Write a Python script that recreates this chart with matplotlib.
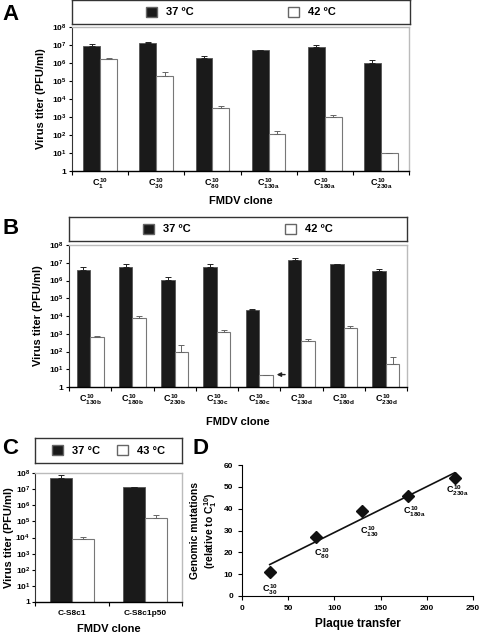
import numpy as np
import matplotlib.pyplot as plt
from matplotlib.patches import Patch

plt.rcParams['font.family'] = 'Liberation Sans'
plt.rcParams['font.weight'] = 'bold'
plt.rcParams['mathtext.fontset'] = 'custom'
plt.rcParams['mathtext.rm'] = 'Liberation Sans:bold'
plt.rcParams['mathtext.it'] = 'Liberation Sans:bold'
plt.rcParams['mathtext.bf'] = 'Liberation Sans:bold'

# --- panel A: clones passaged in parallel lineage a
clones_a = ['1', '30', '80', '130a', '180a', '230a']
titer_37_a = [9e6, 1.3e7, 2e6, 5e6, 8e6, 1.05e6]
top_37_a = [1.2e7, 1.5e7, 2.6e6, 5.5e6, 1.05e7, 1.4e6]
titer_42_a = [1.7e6, 1.8e5, 3e3, 1.1e2, 1e3, 10]
top_42_a = [2e6, 3.3e5, 4.3e3, 1.6e2, 1.35e3, 10]

# --- panel B: lineages b, c, d
clones_b = ['130b', '180b', '230b', '130c', '180c', '130d', '180d', '230d']
titer_37_b = [4e6, 5.5e6, 1.1e6, 6e6, 2.3e4, 1.4e7, 8e6, 3.5e6]
top_37_b = [6e6, 8e6, 1.5e6, 9e6, 2.6e4, 1.9e7, 8e6, 4.5e6]
titer_42_b = [6.5e2, 8e3, 90, 1.2e3, 5, 4e2, 2e3, 20]
top_42_b = [7e2, 9.5e3, 2.2e2, 1.7e3, 5, 5e2, 2.6e3, 50]

# --- panel C: C-S8c1 populations
clones_c = ['C-S8c1', 'C-S8c1p50']
titer_37_c = [5e7, 1.3e7]
top_37_c = [7e7, 1.4e7]
titer_43_c = [8e3, 1.6e5]
top_43_c = [1.1e4, 2.5e5]

# --- panel D: mutations vs plaque transfers
transfers = [30, 80, 130, 180, 230]
mutations = [11, 27, 39, 46, 54]
point_names = ['30', '80', '130', '180a', '230a']

W, H = 480, 633
fig = plt.figure(figsize=(W / 100, H / 100), dpi=100)


def box(px_left, px_top, px_right, px_bottom):
    return [px_left / W, 1 - px_bottom / H, (px_right - px_left) / W,
            (px_bottom - px_top) / H]


def legend_box(rect, temps, colspace):
    lax = fig.add_axes(rect)
    lax.set_xticks([])
    lax.set_yticks([])
    for s in lax.spines.values():
        s.set_color('#333333')
        s.set_linewidth(1.0)
    handles = [Patch(facecolor='#1a1a1a', edgecolor='#666666', label=temps[0]),
               Patch(facecolor='white', edgecolor='#666666', label=temps[1])]
    lax.legend(handles=handles, loc='center', ncol=2, frameon=False,
               handlelength=1.0, handleheight=1.0,
               columnspacing=colspace, handletextpad=0.8,
               prop={'weight': 'bold', 'size': 8})


def titer_panel(ax, names, v1, t1, v2, t2, width, fs, mathlabels=True):
    x = np.arange(len(names))
    ax.set_yscale('log')
    ax.bar(x - width / 2, v1, width, color='#1a1a1a', edgecolor='#555555',
           linewidth=0.6)
    ax.bar(x + width / 2, v2, width, color='white', edgecolor='#777777',
           linewidth=0.8)
    e1 = [np.zeros(len(v1)), np.array(t1) - np.array(v1)]
    e2 = [np.zeros(len(v2)), np.array(t2) - np.array(v2)]
    ax.errorbar(x - width / 2, v1, yerr=e1, fmt='none', ecolor='#222222',
                elinewidth=0.7, capsize=2.5, capthick=0.7)
    ax.errorbar(x + width / 2, v2, yerr=e2, fmt='none', ecolor='#666666',
                elinewidth=0.7, capsize=2.5, capthick=0.7)
    ax.set_ylim(1, 1e8)
    ax.set_xlim(-0.5, len(names) - 0.5)
    ax.set_yticks([10.0 ** k for k in range(9)])
    ax.set_yticklabels(['1'] + [r'$10^{%d}$' % k for k in range(1, 9)],
                       fontsize=6)
    ax.minorticks_off()
    ax.set_xticks(np.arange(len(names) + 1) - 0.5)
    ax.set_xticklabels([])
    ax.set_xticks(x, minor=True)
    if mathlabels:
        ax.set_xticklabels([r'$C^{10}_{%s}$' % n for n in names], minor=True,
                           fontsize=fs)
    else:
        ax.set_xticklabels(names, minor=True, fontsize=fs)
    ax.tick_params(axis='x', which='minor', length=0, pad=4)
    ax.tick_params(axis='x', which='major', length=3, width=0.8)
    ax.tick_params(axis='y', length=2.5, width=0.8, pad=1.5)
    ax.spines['bottom'].set_linewidth(1.0)
    ax.spines['left'].set_color('#333333')
    for s in ('top', 'right'):
        ax.spines[s].set_color('#bbbbbb')
        ax.spines[s].set_linewidth(1.0)
    ax.set_xlabel('FMDV clone', fontsize=8, fontweight='bold')
    ax.set_ylabel('Virus titer (PFU/ml)', fontsize=8, fontweight='bold')


# A
ax_a = fig.add_axes(box(72, 27, 409, 171))
titer_panel(ax_a, clones_a, titer_37_a, top_37_a, titer_42_a, top_42_a, 0.3, 6.5)
ax_a.xaxis.labelpad = 4
legend_box(box(72, 0, 410, 24), ['37 ºC', '42 ºC'], 8.5)
fig.text(2 / W, 1 - 14 / H, 'A', fontsize=16, fontweight='bold', va='center')

# B
ax_b = fig.add_axes(box(69, 245, 407, 387))
titer_panel(ax_b, clones_b, titer_37_b, top_37_b, titer_42_b, top_42_b, 0.32, 6.5)
ax_b.xaxis.labelpad = 7
ax_b.annotate('', xy=(4.35, 5), xytext=(4.68, 5),
              arrowprops=dict(arrowstyle='-|>', color='#222222', lw=1.0,
                              mutation_scale=6),
              annotation_clip=False)
legend_box(box(69, 217, 407, 241), ['37 ºC', '42 ºC'], 8.5)
fig.text(2 / W, 1 - 229 / H, 'B', fontsize=16, fontweight='bold', va='center')

# C
ax_c = fig.add_axes(box(35, 473, 182, 602))
titer_panel(ax_c, clones_c, titer_37_c, top_37_c, titer_43_c, top_43_c, 0.3, 6,
            mathlabels=False)
ax_c.tick_params(axis='x', which='minor', pad=6)
ax_c.tick_params(axis='y', pad=1)
ax_c.xaxis.labelpad = 5
ax_c.yaxis.labelpad = 1
legend_box(box(35, 438, 182, 463), ['37 °C', '43 °C'], 1.5)
fig.text(2 / W, 1 - 449 / H, 'C', fontsize=16, fontweight='bold', va='center')

# D
ax_d = fig.add_axes(box(242, 465, 473, 596))
slope, icpt = np.polyfit(transfers, mutations, 1)
xfit = np.array([transfers[0], transfers[-1]])
ax_d.plot(xfit, slope * xfit + icpt, color='#111111', lw=1.2)
ax_d.plot(transfers, mutations, 'D', color='#111111', ms=6)
offsets = [(0, -13), (4, -12), (5, -15), (4, -12), (2, -9)]
for xv, yv, nm, off in zip(transfers, mutations, point_names, offsets):
    ax_d.annotate(r'$C^{10}_{%s}$' % nm, (xv, yv), xytext=off,
                  textcoords='offset points', ha='center', va='center',
                  fontsize=6.5)
ax_d.set_xlim(0, 250)
ax_d.set_ylim(0, 60)
ax_d.set_xticks(range(0, 251, 50))
ax_d.set_yticks(range(0, 61, 10))
ax_d.tick_params(labelsize=6, length=3, width=0.8)
ax_d.spines['top'].set_visible(False)
ax_d.spines['right'].set_visible(False)
ax_d.set_xlabel('Plaque transfer', fontsize=8.5, fontweight='bold')
ax_d.set_ylabel('Genomic mutations\n' + r'(relative to $C^{10}_{1}$)',
                fontsize=7.5, fontweight='bold', labelpad=3)
fig.text(193 / W, 1 - 449 / H, 'D', fontsize=16, fontweight='bold', va='center')

fig.savefig('out.png', dpi=100)
